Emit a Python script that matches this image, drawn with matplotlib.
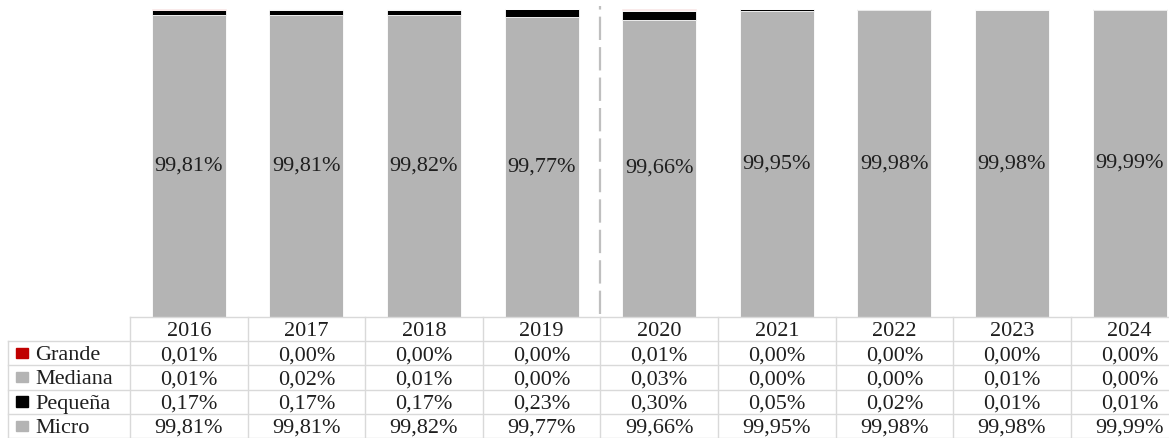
import matplotlib
matplotlib.use("Agg")
import matplotlib.pyplot as plt
from matplotlib.patches import Rectangle

years = ["2016", "2017", "2018", "2019", "2020", "2021", "2022", "2023", "2024"]
micro = [99.81, 99.81, 99.82, 99.77, 99.66, 99.95, 99.98, 99.98, 99.99]
pequena = [0.17, 0.17, 0.17, 0.23, 0.30, 0.05, 0.02, 0.01, 0.01]
mediana = [0.01, 0.02, 0.01, 0.00, 0.03, 0.00, 0.00, 0.01, 0.00]
grande = [0.01, 0.00, 0.00, 0.00, 0.01, 0.00, 0.00, 0.00, 0.00]

series_names = ["Grande", "Mediana", "Pequeña", "Micro"]
series_colors = {"Micro": "#b4b4b4", "Pequeña": "#000000",
                 "Mediana": "#b4b4b4", "Grande": "#c00000"}

W, H = 1169, 438
col_w = 117.6
serif = "Liberation Serif"
txt_color = "#1f1f1f"
fs = 16


def pct(v):
    return f"{v:.2f}%".replace(".", ",")


fig = plt.figure(figsize=(W / 100, H / 100), dpi=100)

# bar area, columns line up with the table below
ax = fig.add_axes([130 / W, (H - 317) / H, 9 * col_w / W, (317 - 9.5) / H])
x = [i + 0.5 for i in range(len(years))]
bw = 0.63
bottom = [0.0] * len(years)
stack = [("Micro", micro), ("Pequeña", pequena), ("Mediana", mediana), ("Grande", grande)]
for name, vals in stack:
    ax.bar(x, vals, bw, bottom=bottom, color=series_colors[name],
           edgecolor="white", linewidth=0.6)
    bottom = [b + v for b, v in zip(bottom, vals)]

ax.set_xlim(0, 9)
ax.set_ylim(90, 100)
for s in ax.spines.values():
    s.set_visible(False)
ax.set_xticks([])
ax.set_yticks([])

# micro share label in the middle of each bar
for xi, v in zip(x, micro):
    ax.text(xi, (90 + v) / 2, pct(v), ha="center", va="center",
            fontsize=fs, family=serif, color=txt_color)

# split before 2020
ax.plot([4, 4], [90.1, 100.1], color="#bfbfbf", lw=1.6,
        linestyle=(0, (10.5, 3.2)), clip_on=False)

# data table
tax = fig.add_axes([8 / W, 0, (130 + 9 * col_w - 8) / W, 121 / H])
left = -122 / col_w
tax.set_xlim(left, 9)
tax.set_ylim(0, 5)
tax.axis("off")
grid = "#d9d9d9"
tax.plot([0, 9], [5, 5], color=grid, lw=1, clip_on=False)
for r in range(5):
    tax.plot([left, 9], [r, r], color=grid, lw=1, clip_on=False)
tax.plot([left, left], [0, 4], color=grid, lw=1, clip_on=False)
for c in range(10):
    tax.plot([c, c], [0, 5], color=grid, lw=1, clip_on=False)

for i, yr in enumerate(years):
    tax.text(i + 0.5, 4.5, yr, ha="center", va="center_baseline",
             fontsize=fs, family=serif, color=txt_color)

rows = {"Grande": grande, "Mediana": mediana, "Pequeña": pequena, "Micro": micro}
for r, name in enumerate(series_names):
    yc = 3.5 - r
    tax.add_patch(Rectangle((left + 8 / col_w, yc - 0.2), 12 / col_w, 0.42,
                            color=series_colors[name], clip_on=False))
    tax.text(left + 27 / col_w, yc, name, ha="left", va="center_baseline",
             fontsize=fs, family=serif, color=txt_color)
    for i, v in enumerate(rows[name]):
        tax.text(i + 0.5, yc, pct(v), ha="center", va="center_baseline",
                 fontsize=fs, family=serif, color=txt_color)

fig.savefig("out.png", dpi=100)
